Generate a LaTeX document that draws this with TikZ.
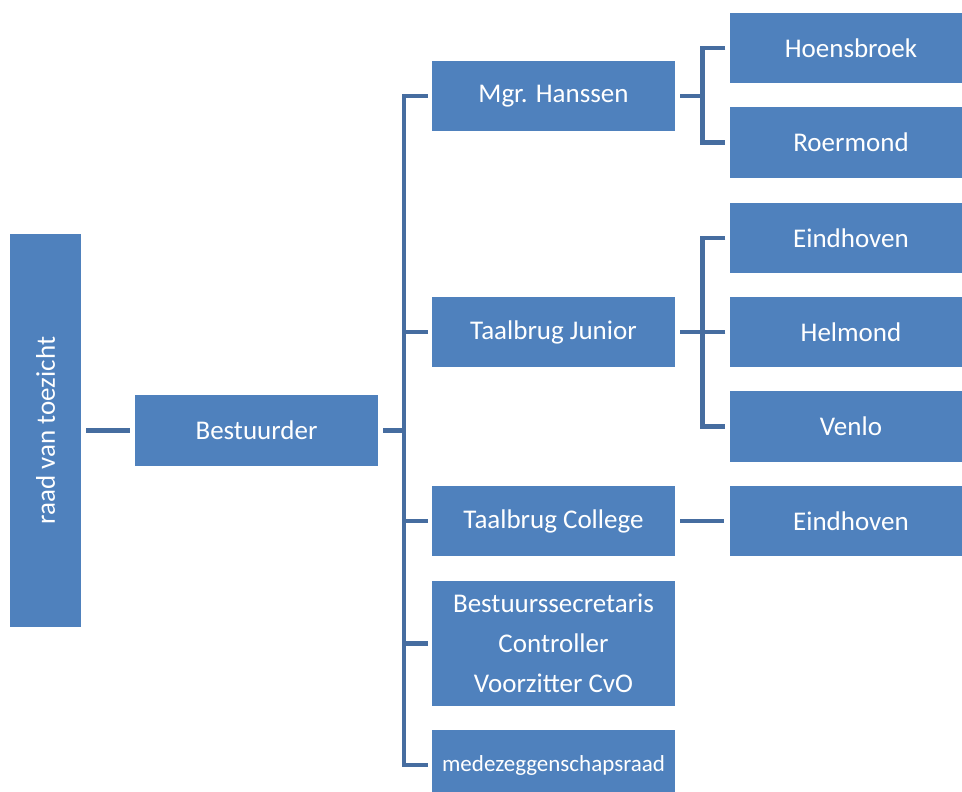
\documentclass[tikz,border=0pt]{standalone}
\usepackage{fontspec}
\setmainfont{Carlito}
\definecolor{boxblue}{HTML}{4F81BD}
\definecolor{lineblue}{HTML}{466DA0}
\begin{document}
\begin{tikzpicture}[x=1pt,y=-1pt,
  box/.style={fill=boxblue,draw=none,text=white,inner sep=0pt,align=center,font=\fontsize{27}{40}\selectfont},
  conn/.style={draw=lineblue,line width=4.5pt,line join=miter}]
\useasboundingbox (0,0) rectangle (962,792);
\clip (0,0) rectangle (962,792);
\fill[white] (0,0) rectangle (962,792);
% boxes (centre x, centre y)
\node[box,minimum width=71pt,minimum height=393pt] (raad) at (45.5,430.5) {\rotatebox{90}{raad van toezicht}};
\node[box,minimum width=243pt,minimum height=71pt] (best) at (256.5,430.5) {Bestuurder};
\node[box,minimum width=243pt,minimum height=70pt] (mgr) at (553.5,96) {Mgr. Hanssen};
\node[box,minimum width=243pt,minimum height=70pt] (tj) at (553.5,332) {Taalbrug Junior};
\node[box,minimum width=243pt,minimum height=70pt] (tc) at (553.5,521) {Taalbrug College};
\node[box,minimum width=243pt,minimum height=125pt] (sec) at (553.5,643.5) {Bestuurssecretaris\\Controller\\Voorzitter CvO};
\node[box,minimum width=243pt,minimum height=70pt,font=\fontsize{23}{28}\selectfont] (mr) at (553.5,765) {medezeggenschapsraad};
\node[box,minimum width=243pt,minimum height=70pt] (hoens) at (851,48) {Hoensbroek};
\node[box,minimum width=243pt,minimum height=71pt] (roer) at (851,142.5) {Roermond};
\node[box,minimum width=243pt,minimum height=70pt] (ein1) at (851,238) {Eindhoven};
\node[box,minimum width=243pt,minimum height=70pt] (helm) at (851,332) {Helmond};
\node[box,minimum width=243pt,minimum height=71pt] (venlo) at (851,426.5) {Venlo};
\node[box,minimum width=243pt,minimum height=70pt] (ein2) at (851,521) {Eindhoven};
% connectors
\draw[conn] ([xshift=5pt]raad.east |- best.west) -- ([xshift=-5pt]best.west);
\draw[conn] ([xshift=5pt]best.east) -- ++(21,0);
\draw[conn] ([xshift=-4pt]mgr.west) -- ++(-24,0) |- ([xshift=-4pt]mr.west);
\draw[conn] ([xshift=-4pt]tj.west) -- ++(-24,0);
\draw[conn] ([xshift=-4pt]tc.west) -- ++(-24,0);
\draw[conn] ([xshift=-4pt]sec.west) -- ++(-24,0);
\draw[conn] ([xshift=5pt]mgr.east) -- ++(22,0);
\draw[conn] ([xshift=-4pt]hoens.west) -- ++(-23,0) |- ([xshift=-4pt]roer.west);
\draw[conn] ([xshift=5pt]tj.east) -- ++(22,0);
\draw[conn] ([xshift=-4pt]ein1.west) -- ++(-23,0) |- ([xshift=-4pt]venlo.west);
\draw[conn] ([xshift=-4pt]helm.west) -- ++(-23,0);
\draw[conn] ([xshift=5pt]tc.east) -- ([xshift=-5pt]ein2.west);
\end{tikzpicture}
\end{document}
